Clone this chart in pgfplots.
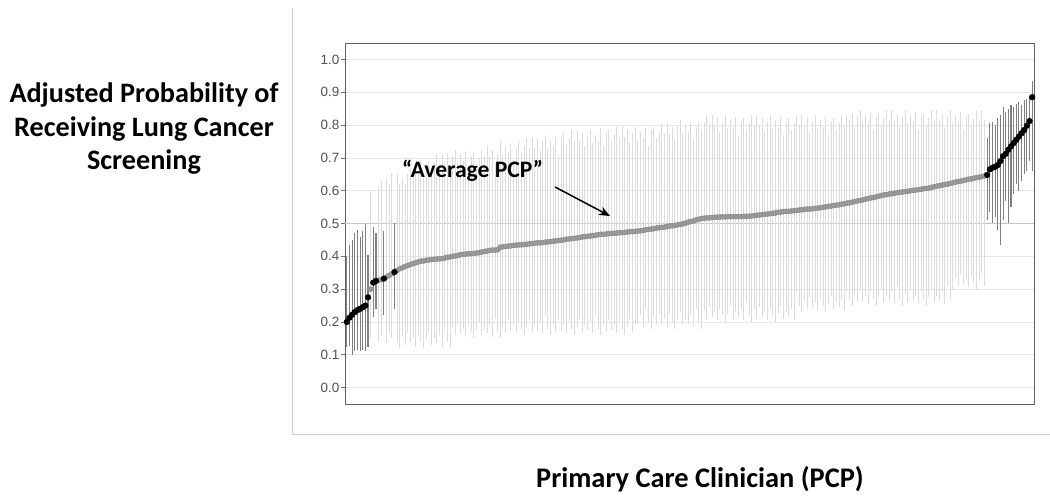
\documentclass[border=0pt]{standalone}
\usepackage{pgfplots}
\pgfplotsset{compat=1.18}
\usepackage{pgfplotstable}
\usepackage{fontspec}
\setmainfont{Carlito}
\newfontfamily\arialf{Liberation Sans}
\usetikzlibrary{arrows.meta}

\definecolor{barlight}{RGB}{220,220,220}
\definecolor{bardark}{RGB}{128,128,128}
\definecolor{ptgray}{RGB}{155,155,155}
\definecolor{gridc}{RGB}{232,232,232}
\definecolor{ticktext}{RGB}{80,80,92}
\definecolor{framec}{RGB}{205,205,205}

% significant PCPs, low end
\pgfplotstableread{
x y lo hi
1 0.200 0.125 0.400
2 0.213 0.127 0.436
3 0.222 0.100 0.450
4 0.230 0.110 0.470
5 0.236 0.115 0.480
6 0.240 0.110 0.460
7 0.245 0.115 0.476
8 0.250 0.110 0.497
9 0.275 0.125 0.405
11 0.320 0.215 0.490
12 0.325 0.240 0.470
15 0.332 0.220 0.476
19 0.352 0.240 0.500
}\lowtab

% significant PCPs, high end
\pgfplotstableread{
x y lo hi
243 0.648 0.510 0.760
244 0.665 0.535 0.805
245 0.670 0.500 0.810
246 0.673 0.520 0.800
247 0.678 0.480 0.820
248 0.690 0.435 0.830
249 0.705 0.510 0.855
250 0.712 0.570 0.840
251 0.725 0.500 0.850
252 0.735 0.550 0.860
253 0.745 0.590 0.855
254 0.755 0.620 0.865
255 0.765 0.600 0.870
256 0.775 0.630 0.860
257 0.785 0.650 0.875
258 0.798 0.660 0.880
259 0.812 0.690 0.885
260 0.885 0.660 0.935
}\hightab

% non-significant PCPs
\pgfplotstableread{
x y lo hi
10 0.300 0.150 0.600
13 0.327 0.140 0.615
14 0.329 0.160 0.630
16 0.337 0.135 0.640
17 0.342 0.170 0.620
18 0.347 0.150 0.655
20 0.357 0.140 0.650
21 0.362 0.120 0.620
22 0.365 0.155 0.640
23 0.369 0.130 0.620
24 0.372 0.165 0.650
25 0.375 0.135 0.670
26 0.378 0.150 0.650
27 0.380 0.125 0.675
28 0.383 0.160 0.655
29 0.385 0.140 0.695
30 0.386 0.120 0.640
31 0.388 0.145 0.680
32 0.389 0.170 0.690
33 0.390 0.130 0.655
34 0.391 0.150 0.685
35 0.392 0.135 0.710
36 0.392 0.160 0.680
37 0.393 0.125 0.710
38 0.395 0.180 0.680
39 0.397 0.140 0.715
40 0.398 0.120 0.675
41 0.400 0.185 0.705
42 0.401 0.160 0.725
43 0.403 0.195 0.685
44 0.405 0.165 0.710
45 0.406 0.180 0.690
46 0.407 0.155 0.720
47 0.408 0.190 0.665
48 0.408 0.170 0.705
49 0.409 0.150 0.715
50 0.410 0.175 0.680
51 0.411 0.200 0.700
52 0.413 0.160 0.725
53 0.415 0.180 0.705
54 0.416 0.165 0.735
55 0.418 0.190 0.705
56 0.419 0.155 0.725
57 0.419 0.210 0.685
58 0.420 0.170 0.715
59 0.428 0.150 0.750
60 0.429 0.185 0.710
61 0.430 0.170 0.735
62 0.431 0.205 0.715
63 0.432 0.175 0.745
64 0.433 0.190 0.690
65 0.434 0.165 0.730
66 0.435 0.200 0.750
67 0.435 0.180 0.715
68 0.436 0.160 0.735
69 0.437 0.185 0.760
70 0.438 0.210 0.730
71 0.439 0.170 0.760
72 0.440 0.190 0.730
73 0.441 0.175 0.760
74 0.441 0.200 0.720
75 0.442 0.165 0.750
76 0.443 0.220 0.770
77 0.444 0.180 0.730
78 0.445 0.160 0.755
79 0.446 0.195 0.735
80 0.447 0.170 0.765
81 0.448 0.205 0.710
82 0.449 0.175 0.765
83 0.450 0.190 0.775
84 0.452 0.165 0.740
85 0.453 0.200 0.760
86 0.454 0.180 0.785
87 0.455 0.160 0.755
88 0.456 0.185 0.785
89 0.457 0.210 0.755
90 0.459 0.170 0.775
91 0.460 0.190 0.735
92 0.461 0.175 0.765
93 0.462 0.200 0.785
94 0.463 0.165 0.745
95 0.464 0.220 0.770
96 0.466 0.180 0.750
97 0.467 0.160 0.790
98 0.467 0.195 0.735
99 0.468 0.170 0.775
100 0.469 0.205 0.785
101 0.470 0.175 0.750
102 0.470 0.190 0.770
103 0.471 0.165 0.795
104 0.472 0.200 0.765
105 0.472 0.180 0.795
106 0.473 0.160 0.765
107 0.474 0.185 0.785
108 0.475 0.210 0.745
109 0.475 0.170 0.775
110 0.476 0.190 0.795
111 0.477 0.195 0.755
112 0.478 0.220 0.780
113 0.479 0.185 0.760
114 0.481 0.240 0.790
115 0.482 0.200 0.735
116 0.483 0.180 0.785
117 0.484 0.215 0.795
118 0.486 0.190 0.760
119 0.487 0.225 0.780
120 0.488 0.195 0.805
121 0.489 0.210 0.775
122 0.491 0.185 0.805
123 0.492 0.220 0.775
124 0.493 0.200 0.795
125 0.494 0.180 0.755
126 0.496 0.205 0.795
127 0.497 0.230 0.815
128 0.499 0.190 0.775
129 0.501 0.210 0.800
130 0.504 0.195 0.780
131 0.506 0.220 0.810
132 0.508 0.185 0.755
133 0.511 0.240 0.795
134 0.513 0.200 0.805
135 0.515 0.180 0.785
136 0.516 0.235 0.805
137 0.517 0.210 0.830
138 0.517 0.245 0.800
139 0.518 0.215 0.830
140 0.519 0.230 0.800
141 0.519 0.205 0.820
142 0.520 0.240 0.780
143 0.520 0.220 0.810
144 0.520 0.200 0.830
145 0.521 0.225 0.790
146 0.521 0.250 0.815
147 0.521 0.210 0.795
148 0.521 0.230 0.825
149 0.521 0.215 0.770
150 0.521 0.240 0.810
151 0.522 0.205 0.820
152 0.522 0.260 0.785
153 0.522 0.220 0.805
154 0.523 0.200 0.830
155 0.524 0.235 0.800
156 0.525 0.210 0.830
157 0.526 0.245 0.800
158 0.527 0.215 0.820
159 0.528 0.230 0.780
160 0.529 0.205 0.810
161 0.530 0.240 0.830
162 0.531 0.220 0.790
163 0.532 0.200 0.815
164 0.534 0.225 0.795
165 0.535 0.250 0.825
166 0.536 0.210 0.770
167 0.537 0.230 0.810
168 0.537 0.215 0.820
169 0.538 0.240 0.785
170 0.539 0.205 0.805
171 0.540 0.290 0.830
172 0.541 0.250 0.800
173 0.542 0.230 0.830
174 0.543 0.265 0.800
175 0.544 0.240 0.820
176 0.544 0.275 0.780
177 0.545 0.245 0.810
178 0.546 0.260 0.830
179 0.547 0.235 0.790
180 0.548 0.270 0.815
181 0.549 0.250 0.795
182 0.551 0.230 0.825
183 0.552 0.255 0.770
184 0.553 0.280 0.810
185 0.555 0.240 0.820
186 0.556 0.260 0.785
187 0.557 0.245 0.805
188 0.559 0.270 0.830
189 0.560 0.235 0.800
190 0.562 0.290 0.830
191 0.563 0.270 0.815
192 0.565 0.250 0.835
193 0.567 0.285 0.795
194 0.569 0.260 0.825
195 0.570 0.295 0.845
196 0.572 0.265 0.805
197 0.574 0.280 0.830
198 0.576 0.255 0.810
199 0.578 0.290 0.840
200 0.579 0.270 0.785
201 0.581 0.250 0.825
202 0.583 0.275 0.835
203 0.585 0.300 0.800
204 0.587 0.260 0.820
205 0.588 0.280 0.845
206 0.590 0.265 0.815
207 0.591 0.290 0.845
208 0.592 0.255 0.815
209 0.594 0.310 0.835
210 0.595 0.270 0.795
211 0.596 0.250 0.825
212 0.597 0.285 0.845
213 0.598 0.260 0.805
214 0.600 0.295 0.830
215 0.601 0.265 0.810
216 0.602 0.280 0.840
217 0.603 0.255 0.785
218 0.604 0.290 0.825
219 0.606 0.270 0.835
220 0.607 0.250 0.800
221 0.608 0.275 0.820
222 0.610 0.300 0.845
223 0.612 0.260 0.815
224 0.614 0.280 0.845
225 0.615 0.265 0.815
226 0.617 0.290 0.835
227 0.619 0.255 0.795
228 0.620 0.310 0.825
229 0.622 0.270 0.845
230 0.624 0.300 0.805
231 0.626 0.335 0.830
232 0.628 0.310 0.810
233 0.629 0.345 0.840
234 0.631 0.315 0.785
235 0.633 0.330 0.825
236 0.635 0.305 0.835
237 0.636 0.340 0.800
238 0.638 0.320 0.820
239 0.640 0.300 0.845
240 0.641 0.325 0.815
241 0.643 0.350 0.845
242 0.645 0.310 0.815
}\graytab

\begin{document}
\begin{tikzpicture}
\useasboundingbox (0,0) rectangle (1050bp,503bp);
\draw[framec, line width=1bp] (292bp,495bp) -- (292bp,68bp) -- (1050bp,68bp);
\begin{axis}[
  at={(345bp,99bp)}, anchor=south west,
  scale only axis, width=689bp, height=361bp,
  xmin=0.3, xmax=260.7, ymin=-0.05, ymax=1.05,
  xtick=\empty,
  ytick={0,0.1,0.2,0.3,0.4,0.5,0.6,0.7,0.8,0.9,1.0},
  yticklabels={0.0,0.1,0.2,0.3,0.4,0.5,0.6,0.7,0.8,0.9,1.0},
  ymajorgrids, grid style={color=gridc, line width=0.7bp},
  extra y ticks={0.5}, extra y tick labels={},
  extra y tick style={grid style={color=black!22, line width=0.9bp}, major tick length=0pt},
  axis line style={color=black!62, line width=0.9bp},
  tick style={color=black!55, line width=0.7bp},
  tick align=outside, major tick length=4bp,
  ytick pos=left,
  yticklabel style={font=\arialf\fontsize{13.5}{13.5}\selectfont, text=ticktext, inner sep=1.5bp},
]
\addplot[draw=none, mark=none, forget plot,
  error bars/.cd, y dir=both, y explicit, error mark=none,
  error bar style={draw=barlight, line width=1.0bp, solid}]
  table[x=x, y=y, y error plus expr=\thisrow{hi}-\thisrow{y}, y error minus expr=\thisrow{y}-\thisrow{lo}] {\graytab};
\addplot[draw=none, mark=none, forget plot,
  error bars/.cd, y dir=both, y explicit, error mark=none,
  error bar style={draw=bardark, line width=1.1bp, solid}]
  table[x=x, y=y, y error plus expr=\thisrow{hi}-\thisrow{y}, y error minus expr=\thisrow{y}-\thisrow{lo}] {\lowtab};
\addplot[draw=none, mark=none, forget plot,
  error bars/.cd, y dir=both, y explicit, error mark=none,
  error bar style={draw=bardark, line width=1.1bp, solid}]
  table[x=x, y=y, y error plus expr=\thisrow{hi}-\thisrow{y}, y error minus expr=\thisrow{y}-\thisrow{lo}] {\hightab};
\addplot[only marks, mark=*, mark size=2.6bp, mark options={fill=ptgray, draw=ptgray!85!black, line width=0.3bp}]
  table[x=x, y=y] {\graytab};
\addplot[only marks, mark=*, mark size=2.9bp, mark options={fill=black, draw=black}]
  table[x=x, y=y] {\lowtab};
\addplot[only marks, mark=*, mark size=2.9bp, mark options={fill=black, draw=black}]
  table[x=x, y=y] {\hightab};
\end{axis}
\begin{scope}[every node/.style={inner sep=0pt}]
\node[anchor=base, font=\bfseries\fontsize{28.3}{28.3}\selectfont] at (144bp,400bp) {Adjusted Probability of};
\node[anchor=base, font=\bfseries\fontsize{28.3}{28.3}\selectfont] at (144bp,366bp) {Receiving Lung Cancer};
\node[anchor=base, font=\bfseries\fontsize{28.3}{28.3}\selectfont] at (144bp,333bp) {Screening};
\node[anchor=base, font=\bfseries\fontsize{28.5}{28.5}\selectfont] at (700bp,16bp) {Primary Care Clinician (PCP)};
\node[anchor=base west, font=\bfseries\fontsize{23.7}{23.7}\selectfont] at (402bp,325bp) {“Average PCP”};
\end{scope}
\draw[-{Stealth[length=11bp,width=9bp]}, line width=1.5bp] (555bp,316bp) -- (610bp,287bp);
\end{tikzpicture}
\end{document}
